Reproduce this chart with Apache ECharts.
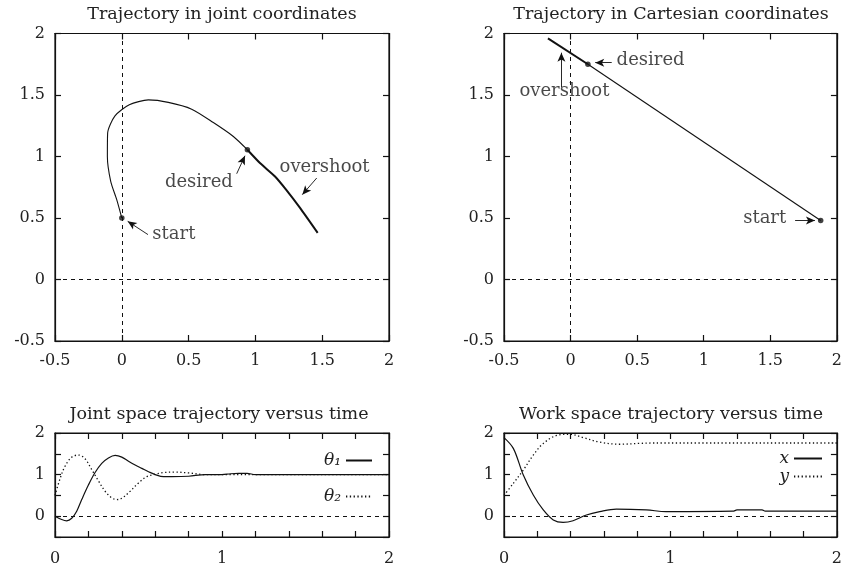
<!DOCTYPE html>
<html><head><meta charset="utf-8">
<script src="https://cdn.jsdelivr.net/npm/echarts@6/dist/echarts.min.js"></script>
<style>html,body{margin:0;padding:0;background:#fff}#c{width:845px;height:567px}</style>
</head><body><div id="c"></div>
<script>
// ---- Data ----
const titles = ['Trajectory in joint coordinates', 'Trajectory in Cartesian coordinates',
  'Joint space trajectory versus time', 'Work space trajectory versus time'];

// Joint-space path (theta1 on x, theta2 on y): start -> desired
const jointPathX = [0, -0.038, -0.083, -0.108, -0.106, -0.051, 0.056, 0.199, 0.348, 0.523, 0.685, 0.835, 0.94];
const jointPathY = [0.5, 0.649, 0.798, 1.0, 1.19, 1.33, 1.42, 1.46, 1.44, 1.385, 1.276, 1.163, 1.055];
// Joint-space overshoot segment (desired -> extreme)
const jointOverX = [0.94, 1.034, 1.147, 1.234, 1.334, 1.466];
const jointOverY = [1.055, 0.947, 0.838, 0.725, 0.582, 0.379];
const jointDotsX = [0, 0.94];
const jointDotsY = [0.5, 1.055];

// Cartesian path
const cartPathX = [1.878, 0.13];
const cartPathY = [0.48, 1.75];
const cartOverX = [0.13, -0.17];
const cartOverY = [1.75, 1.96];
const cartDotsX = [1.878, 0.13];
const cartDotsY = [0.48, 1.75];

// Joint space vs time
const th1T = [0, 0.04, 0.07, 0.1, 0.13, 0.16, 0.2, 0.24, 0.28, 0.32, 0.36, 0.4, 0.44, 0.48, 0.52, 0.56, 0.6, 0.65, 0.7, 0.8, 0.9, 1.0, 1.05, 1.1, 1.15, 1.2, 1.3, 1.5, 2.0];
const th1V = [0, -0.08, -0.11, -0.05, 0.12, 0.4, 0.75, 1.05, 1.27, 1.4, 1.46, 1.42, 1.32, 1.23, 1.15, 1.07, 1.0, 0.95, 0.95, 0.96, 1.0, 1.0, 1.02, 1.03, 1.03, 1.0, 1.0, 1.0, 1.0];
const th2T = [0, 0.03, 0.06, 0.1, 0.14, 0.18, 0.22, 0.26, 0.3, 0.34, 0.37, 0.4, 0.45, 0.5, 0.55, 0.6, 0.65, 0.72, 0.8, 0.9, 1.0, 2.0];
const th2V = [0.5, 0.9, 1.2, 1.42, 1.47, 1.38, 1.12, 0.85, 0.6, 0.44, 0.4, 0.43, 0.6, 0.8, 0.95, 1.01, 1.05, 1.06, 1.04, 1.0, 1.0, 1.0];

// Work space vs time
const wxT = [0, 0.056, 0.116, 0.176, 0.236, 0.296, 0.355, 0.415, 0.495, 0.575, 0.675, 0.855, 0.974, 1.375, 1.4, 1.55, 1.57, 2.0];
const wxV = [1.89, 1.63, 0.99, 0.51, 0.15, -0.09, -0.15, -0.11, 0.03, 0.11, 0.17, 0.15, 0.11, 0.12, 0.15, 0.15, 0.12, 0.12];
const wyT = [0, 0.056, 0.116, 0.176, 0.236, 0.316, 0.395, 0.475, 0.575, 0.695, 0.814, 0.9, 2.0];
const wyV = [0.5, 0.79, 1.11, 1.47, 1.75, 1.94, 1.97, 1.89, 1.78, 1.73, 1.75, 1.76, 1.76];

const legendLeft = ['θ₁', 'θ₂'];
const legendRight = ['x', 'y'];

// Annotations: [x, y, text, side]
const jointNotes = [[0.225, 0.365, 'start', 'right'], [0.835, 0.787, 'desired', 'left'], [1.177, 0.909, 'overshoot', 'right']];
const jointArrows = [[[0.196, 0.365], [0.044, 0.473]], [[0.86, 0.86], [0.922, 1.006]], [[1.459, 0.825], [1.351, 0.69]]];
const cartNotes = [[0.342, 1.785, 'desired', 'right'], [-0.388, 1.528, 'overshoot', 'right'], [1.623, 0.495, 'start', 'left']];
const cartArrows = [[[0.309, 1.763], [0.185, 1.763]], [[-0.069, 1.563], [-0.069, 1.844]], [[1.686, 0.479], [1.835, 0.479]]];

// ---- Chart ----
const FONT = 'DejaVu Serif';
const INK = '#111';
const zip = (a, b) => a.map((v, i) => [v, b[i]]);
const grids = [
  {left: 55, top: 33.5, width: 334, height: 307.5},
  {left: 504, top: 33.5, width: 334.5, height: 307.5},
  {left: 55, top: 433, width: 334, height: 104},
  {left: 504, top: 433, width: 334.5, height: 104}
];
const intFmt = v => Math.abs(v - Math.round(v)) < 1e-6 ? String(Math.round(v)) : '';
const xAxes = [], yAxes = [];
grids.forEach((g, i) => {
  const top = i < 2;
  const xr = top ? {min: -0.5, max: 2, interval: 0.5} : {min: 0, max: 2, interval: 0.2};
  const yr = {min: -0.5, max: 2, interval: 0.5};
  ['bottom', 'top'].forEach(pos => xAxes.push(Object.assign({
    type: 'value', gridIndex: i, position: pos,
    axisLine: {show: true, onZero: false, lineStyle: {color: INK, width: 1.2}},
    axisTick: {show: true, inside: true, length: 6, lineStyle: {color: INK, width: 1.2}},
    axisLabel: {show: pos === 'bottom', margin: top ? 12 : 14, color: '#222', fontFamily: FONT, fontSize: 16,
      formatter: top ? (v => String(v)) : intFmt},
    splitLine: {show: false}
  }, xr)));
  ['left', 'right'].forEach(pos => yAxes.push(Object.assign({
    type: 'value', gridIndex: i, position: pos,
    axisLine: {show: true, onZero: false, lineStyle: {color: INK, width: 1.2}},
    axisTick: {show: true, inside: true, length: 6, lineStyle: {color: INK, width: 1.2}},
    axisLabel: {show: pos === 'left', margin: 10, color: '#222', fontFamily: FONT, fontSize: 16,
      formatter: top ? (v => String(v)) : intFmt},
    splitLine: {show: false}
  }, yr)));
});

const zeroLines = (withVertical) => ({
  silent: true, symbol: 'none', animation: false, label: {show: false},
  lineStyle: {color: INK, type: [4, 4], width: 1},
  data: withVertical ? [{yAxis: 0}, {xAxis: 0}] : [{yAxis: 0}]
});
const ax = i => ({xAxisIndex: 2 * i, yAxisIndex: 2 * i});
const lineS = (i, data, extra) => Object.assign({
  type: 'line', data, symbol: 'none', showSymbol: false, animation: false,
  lineStyle: {color: INK, width: 1.1}, itemStyle: {color: INK}
}, ax(i), extra || {});
const notesS = (i, notes, arrows) => Object.assign({
  type: 'scatter', animation: false, silent: true, symbolSize: 1,
  itemStyle: {color: 'transparent'},
  data: notes.map(n => ({value: [n[0], n[1]], label: {show: true, position: n[3], distance: 0, formatter: n[2],
    color: '#1a1a1a', fontFamily: FONT, fontSize: 18, verticalAlign: 'middle'}})),
  markLine: {
    silent: true, animation: false, symbol: ['none', 'arrow'], symbolSize: [6, 9], label: {show: false},
    lineStyle: {color: INK, type: 'solid', width: 0.9},
    data: arrows.map(a => [{coord: a[0]}, {coord: a[1]}])
  }
}, ax(i));
const dotsS = (i, xs, ys) => Object.assign({
  type: 'scatter', animation: false, symbol: 'circle', symbolSize: 5.5,
  itemStyle: {color: INK}, z: 5, data: zip(xs, ys)
}, ax(i));

const series = [
  lineS(0, zip(jointPathX, jointPathY), {smooth: 0.25, markLine: zeroLines(true)}),
  lineS(0, zip(jointOverX, jointOverY), {smooth: 0.2, lineStyle: {color: INK, width: 2}}),
  dotsS(0, jointDotsX, jointDotsY),
  notesS(0, jointNotes, jointArrows),
  lineS(1, zip(cartPathX, cartPathY), {markLine: zeroLines(true)}),
  lineS(1, zip(cartOverX, cartOverY), {lineStyle: {color: INK, width: 2}}),
  dotsS(1, cartDotsX, cartDotsY),
  notesS(1, cartNotes, cartArrows),
  lineS(2, zip(th1T, th1V), {name: legendLeft[0], smooth: 0.35, lineStyle: {color: INK, width: 1.2}, markLine: zeroLines(false)}),
  lineS(2, zip(th2T, th2V), {name: legendLeft[1], smooth: 0.35, lineStyle: {color: INK, width: 1.3, type: [1.3, 2.5]}}),
  lineS(3, zip(wxT, wxV), {name: legendRight[0], smooth: 0.35, lineStyle: {color: INK, width: 1.2}, markLine: zeroLines(false)}),
  lineS(3, zip(wyT, wyV), {name: legendRight[1], smooth: 0.35, lineStyle: {color: INK, width: 1.3, type: [1.3, 2.5]}})
];

const titleCenters = [[222, 5], [671, 5], [219, 405], [671, 405]];
const legendText = {color: '#222', fontFamily: FONT, fontSize: 17, fontStyle: 'italic', lineHeight: 16};
const option = {
  backgroundColor: '#fff',
  animation: false,
  title: titles.map((t, i) => ({
    text: t, left: titleCenters[i][0], top: titleCenters[i][1], textAlign: 'center', padding: 0,
    textStyle: {color: '#222', fontFamily: FONT, fontSize: 17.5, fontWeight: 'normal'}
  })),
  grid: grids.map(g => Object.assign({show: true, borderColor: INK, borderWidth: 1.2, backgroundColor: 'transparent'}, g)),
  xAxis: xAxes,
  yAxis: yAxes,
  legend: [
    {data: legendLeft, orient: 'vertical', right: 472, top: 452, align: 'right', itemWidth: 26, itemHeight: 10,
      itemGap: 19, padding: 0, textStyle: legendText, selectedMode: false, itemStyle: {opacity: 0}},
    {data: legendRight, orient: 'vertical', right: 22, top: 450, align: 'right', itemWidth: 28, itemHeight: 10,
      itemGap: 1, padding: 0, textStyle: legendText, selectedMode: false, itemStyle: {opacity: 0}}
  ],
  series
};
const chart = echarts.init(document.getElementById('c'), null, {renderer: 'canvas'});
chart.setOption(option);
</script></body></html>
